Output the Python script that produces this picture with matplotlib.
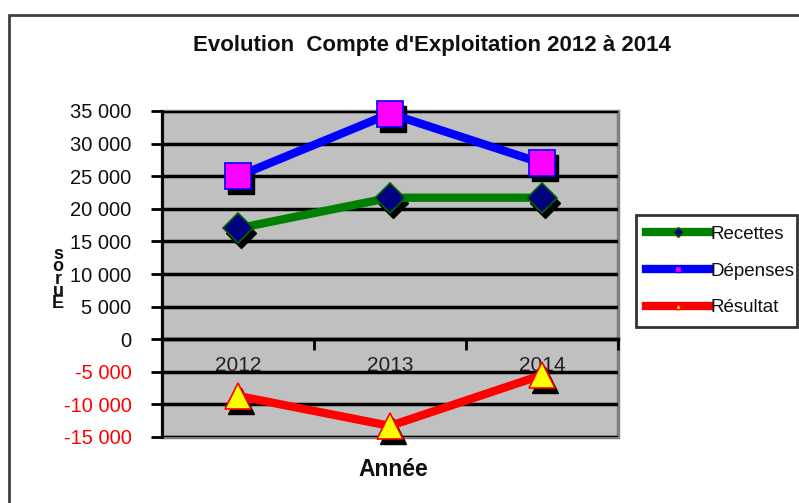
import matplotlib
matplotlib.use("Agg")
import matplotlib.pyplot as plt
from matplotlib.patches import Rectangle
from matplotlib.lines import Line2D
import matplotlib.transforms as mtransforms

plt.rcParams['font.family'] = ['Liberation Sans', 'DejaVu Sans']

years = ['2012', '2013', '2014']
recettes = [17000, 21700, 21700]
depenses = [25000, 34600, 27000]
resultat = [-8700, -13300, -5500]
yticks = [35000, 30000, 25000, 20000, 15000, 10000, 5000, 0, -5000, -10000, -15000]

W, H = 799, 503
fig = plt.figure(figsize=(W / 100, H / 100), dpi=100)
fig.patch.set_facecolor('white')

# outer chart frame
fig.patches.append(Rectangle((9 / W, -0.2), 1.2, 1.2 - 15 / H, transform=fig.transFigure,
                             fill=False, edgecolor='#404040', lw=2))

ax = fig.add_axes([162 / W, 1 - 437 / H, (618 - 162) / W, (437 - 111) / H])
ax.set_facecolor('#C0C0C0')
x = list(range(len(years)))

ax.set_xlim(-0.5, 2.5)
ax.set_ylim(-15000, 35000)
ax.set_yticks(yticks)
ax.grid(axis='y', color='black', lw=2.5, zorder=1)
ax.set_axisbelow(True)

def fmt(v):
    s = f"{abs(v):,}".replace(',', ' ')
    return ('-' if v < 0 else '') + s
ax.set_yticklabels([fmt(v) for v in yticks], fontsize=14.5)
for lab, v in zip(ax.get_yticklabels(), yticks):
    lab.set_color('red' if v < 0 else '#101010')
ax.tick_params(axis='y', direction='out', length=8, width=2, color='black', pad=14)

# x axis crossing at zero
ax.spines['bottom'].set_position(('data', 0))
ax.spines['bottom'].set_color('black')
ax.spines['bottom'].set_linewidth(2.5)
ax.spines['left'].set_color('black')
ax.spines['left'].set_linewidth(2)
ax.spines['top'].set_visible(False)
ax.spines['right'].set_visible(False)
ax.set_xticks(x)
ax.set_xticklabels(years, fontsize=15, color='#202020')
ax.tick_params(axis='x', which='major', length=0, pad=12)
ax.set_xticks([0.5, 1.5, 2.5], minor=True)
ax.tick_params(axis='x', which='minor', direction='out', length=8, width=2, color='black')

# plot area border (grey)
ax.add_patch(Rectangle((0, 0), 1, 1, transform=ax.transAxes, fill=False,
                       edgecolor='#808080', lw=2.5, zorder=0.5, clip_on=False))

shadow = mtransforms.offset_copy(ax.transData, fig=fig, x=3, y=-5, units='dots')

series = [
    (recettes, 'Recettes', 'green', 'D', '#000080', '#006400', 15),
    (depenses, 'Dépenses', 'blue', 's', '#FF00FF', 'blue', 19),
    (resultat, 'Résultat', 'red', '^', 'yellow', 'red', 19),
]
handles = []
for vals, name, col, mk, mfc, mec, ms in series:
    ax.plot(x, vals, linestyle='none', marker=mk, markersize=ms, color='black',
            transform=shadow, zorder=3, clip_on=False)
    ax.plot(x, vals, color=col, lw=6, marker=mk, markersize=ms, markerfacecolor=mfc,
            markeredgecolor=mec, markeredgewidth=1.2, zorder=4, clip_on=False)
    handles.append(Line2D([], [], color=col, lw=6, marker=mk, markersize=5,
                          markerfacecolor=mfc, markeredgecolor=mec, label=name))

leg = fig.legend(handles=handles, loc='center left',
                 bbox_to_anchor=(636 / W, 1 - 325 / H, (797 - 636) / W, (325 - 217) / H),
                 bbox_transform=fig.transFigure, mode='expand', fontsize=13.5,
                 frameon=True, fancybox=False, handlelength=3.4, handletextpad=0.05,
                 borderaxespad=0, labelspacing=1.05, borderpad=0.55)
leg.get_frame().set_edgecolor('black')
leg.get_frame().set_linewidth(2)
for t in leg.get_texts():
    t.set_color('#101010')

fig.text(432 / W, 1 - 45 / H, "Evolution  Compte d'Exploitation 2012 à 2014",
         ha='center', va='center', fontsize=16, fontweight='bold', color='#101010')
fig.text(393 / W, 1 - 470 / H, "Année", ha='center', va='center',
         fontsize=16.5, fontweight='bold', color='#101010')
fig.text(58 / W, 1 - 279 / H, "s\no\nr\nu\nE", ha='center', va='center',
         fontsize=13, fontweight='bold', linespacing=0.62, color='#101010')

fig.savefig('out.png', dpi=100)
